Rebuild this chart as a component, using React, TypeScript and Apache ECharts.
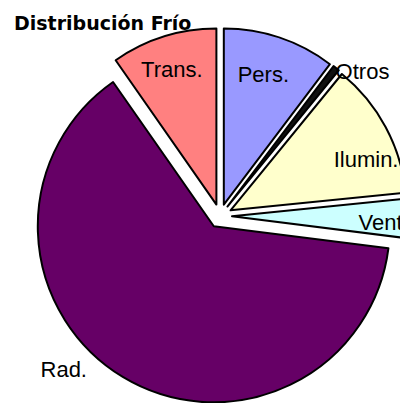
import { useEffect, useRef } from 'react';
import * as echarts from 'echarts';

// Cooling load distribution (share of total, %), clockwise from 12 o'clock
const categories = ['Pers.', 'Otros', 'Ilumin.', 'Vent.', 'Rad.', 'Trans.'];
const values = [10.3, 0.6, 12.5, 3.6, 63.3, 9.7];
const colors = ['#9999FF', '#111111', '#FFFFCC', '#CCFFFF', '#660066', '#FF8080'];
// label placement: distance from centre as fraction of radius, and angular nudge (deg)
const labelRadius = [0.84, 1.154, 0.89, 0.93, 1.246, 0.874];
const labelAngleShift = [1.5, -6.4, -7.1, -1.4, -14.3, 0.8];

const CX = 220;
const CY = 216;
const R = 176;

export default function App() {
  const ref = useRef<HTMLDivElement>(null);
  useEffect(() => {
    if (!ref.current) return;
    const chart = echarts.init(ref.current, null, { renderer: 'svg' });
    const total = values.reduce((a, b) => a + b, 0);
    const mids: number[] = [];
    let cum = 0;
    values.forEach((v) => {
      mids.push(90 - (360 * (cum + v / 2)) / total);
      cum += v;
    });
    const labels = categories.map((name, i) => {
      const a = ((mids[i] + labelAngleShift[i]) * Math.PI) / 180;
      const r = labelRadius[i] * R;
      return {
        type: 'text',
        x: CX + r * Math.cos(a),
        y: CY - r * Math.sin(a),
        silent: true,
        z: 10,
        style: {
          text: name,
          fill: '#000',
          font: '22px "Liberation Sans", Arial, sans-serif',
          textAlign: 'center',
          textVerticalAlign: 'middle',
        },
      };
    });
    chart.setOption({
      animation: false,
      backgroundColor: '#ffffff',
      title: {
        text: 'Distribución Frío',
        left: 9,
        top: 8,
        textStyle: { fontFamily: 'DejaVu Sans', fontWeight: 'bold', fontSize: 19, color: '#000' },
      },
      graphic: labels,
      series: [
        {
          type: 'pie',
          center: [CX, CY],
          radius: R,
          startAngle: 90,
          clockwise: true,
          selectedMode: 'multiple',
          selectedOffset: 12,
          emphasis: { disabled: true },
          select: { itemStyle: { borderColor: '#000', borderWidth: 2 } },
          itemStyle: { borderColor: '#000', borderWidth: 2 },
          labelLine: { show: false },
          label: { show: false },
          data: categories.map((name, i) => ({
            name,
            value: values[i],
            selected: true,
            itemStyle: { color: colors[i] },
          })),
        },
      ],
    });
    return () => chart.dispose();
  }, []);
  return (
    <div
      ref={ref}
      style={{ position: 'fixed', left: 0, top: 0, width: 400, height: 403 }}
    />
  );
}
